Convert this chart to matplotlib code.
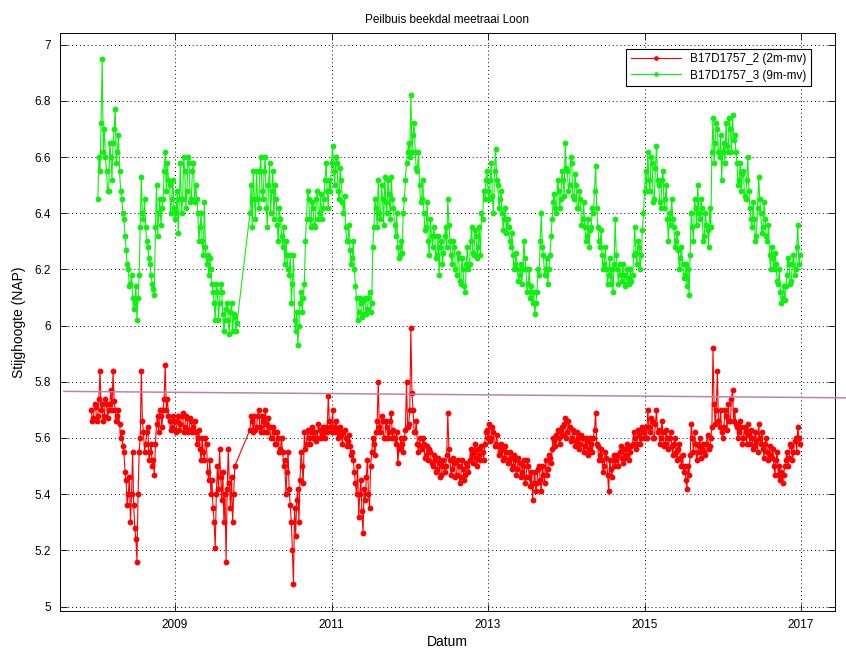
import matplotlib
matplotlib.use("Agg")
import matplotlib.pyplot as plt

SLOTS = 36  # main readings per year; "_b" lists hold the readings halfway between

# ---- B17D1757_3 (9m-mv), green ----
green_2008 = [6.45, 6.55, 6.95, 6.70, 6.55, 6.48, 6.60, 6.65, 6.77, 6.62, 6.55, 6.45,
              6.38, 6.27, 6.20, 6.15, 6.10, 6.08, 6.02, 6.18, 6.53, 6.38, 6.35, 6.28,
              6.22, 6.15, 6.11, 6.50, 6.40, 6.36, 6.45, 6.62, 6.58, 6.50, 6.45, 6.42]
green_2008_b = [6.60, 6.72, 6.62, 6.60, 6.48, 6.65, 6.52, 6.70, 6.58, 6.68, 6.48, 6.40,
                6.32, 6.22, 6.14, 6.18, 6.06, 6.14, 6.10, 6.35, 6.40, 6.45, 6.30, 6.24,
                6.18, 6.13, 6.35, 6.32, 6.45, 6.42, 6.55, 6.48, 6.52, 6.40, 6.52, 6.38]
green_2009 = [6.40, 6.33, 6.58, 6.45, 6.55, 6.48, 6.58, 6.45, 6.58, 6.50, 6.40, 6.35,
              6.30, 6.44, 6.22, 6.18, 6.20, 6.12, 6.02, 6.12, 6.08, 6.12, 5.98, 6.06,
              6.02, 6.05, 5.98, 6.03, 6.01] + [None] * 5 + [6.40, 6.35]
green_2009_b = [6.48, 6.45, 6.40, 6.60, 6.42, 6.60, 6.44, 6.55, 6.44, 6.45, 6.30, 6.40,
                6.25, 6.28, 6.25, 6.24, 6.15, 6.08, 6.15, 6.02, 6.15, 6.04, 6.02, 6.08,
                5.97, 6.08, 6.04, 5.98] + [None] * 6 + [6.50, 6.55]
green_2010 = [6.45, 6.55, 6.42, 6.60, 6.45, 6.60, 6.35, 6.58, 6.48, 6.38, 6.45, 6.30,
              6.38, 6.28, 6.22, 6.25, 6.18, 6.08, 6.25, 5.98, 5.93, 6.08, 6.05, 6.15,
              6.38, 6.45, 6.35, 6.42, 6.35, 6.48, 6.40, 6.38, 6.45, 6.58, 6.42, 6.48]
green_2010_b = [6.38, 6.45, 6.55, 6.48, 6.55, 6.42, 6.50, 6.40, 6.55, 6.50, 6.36, 6.42,
                6.32, 6.35, 6.30, 6.20, 6.25, 6.15, 6.02, 6.05, 6.00, 6.12, 6.10, 6.30,
                6.48, 6.38, 6.44, 6.36, 6.45, 6.38, 6.47, 6.42, 6.52, 6.48, 6.52, 6.58]
green_2011 = [6.64, 6.50, 6.58, 6.45, 6.52, 6.40, 6.35, 6.30, 6.27, 6.24, 6.20, 6.10,
              6.05, 6.08, 6.04, 6.10, 6.06, 6.12, 6.08, 6.35, 6.42, 6.52, 6.38, 6.45,
              6.53, 6.40, 6.47, 6.53, 6.42, 6.32, 6.28, 6.25, 6.26, 6.45, 6.58, 6.65]
green_2011_b = [6.55, 6.60, 6.48, 6.56, 6.44, 6.46, 6.30, 6.36, 6.22, 6.30, 6.14, 6.02,
                6.10, 6.03, 6.09, 6.04, 6.10, 6.05, 6.28, 6.45, 6.35, 6.40, 6.50, 6.36,
                6.44, 6.52, 6.38, 6.45, 6.36, 6.40, 6.24, 6.30, 6.40, 6.52, 6.62, 6.60]
green_2012 = [6.82, 6.68, 6.62, 6.55, 6.50, 6.45, 6.40, 6.35, 6.30, 6.38, 6.28, 6.32,
              6.25, 6.18, 6.30, 6.26, 6.35, 6.45, 6.30, 6.22, 6.28, 6.18, 6.24, 6.15,
              6.20, 6.12, 6.28, 6.22, 6.35, 6.25, 6.32, 6.28, 6.25, 6.38, 6.45, 6.55]
green_2012_b = [6.62, 6.72, 6.56, 6.62, 6.44, 6.52, 6.34, 6.44, 6.25, 6.32, 6.35, 6.24,
                6.32, 6.28, 6.22, 6.32, 6.28, 6.36, 6.25, 6.30, 6.20, 6.26, 6.16, 6.24,
                6.14, 6.22, 6.20, 6.30, 6.26, 6.34, 6.24, 6.35, 6.40, 6.48, 6.52, 6.48]
green_2013 = [6.45, 6.58, 6.40, 6.63, 6.50, 6.45, 6.40, 6.38, 6.33, 6.35, 6.28, 6.25,
              6.22, 6.20, 6.18, 6.15, 6.30, 6.20, 6.15, 6.10, 6.08, 6.04, 6.12, 6.18,
              6.40, 6.25, 6.20, 6.15, 6.25, 6.38, 6.47, 6.40, 6.48, 6.45, 6.52, 6.65]
green_2013_b = [6.52, 6.46, 6.55, 6.52, 6.42, 6.48, 6.34, 6.42, 6.38, 6.30, 6.33, 6.20,
                6.26, 6.16, 6.22, 6.20, 6.24, 6.12, 6.20, 6.14, 6.12, 6.08, 6.20, 6.30,
                6.28, 6.18, 6.24, 6.20, 6.32, 6.44, 6.42, 6.52, 6.42, 6.55, 6.46, 6.56]
green_2014 = [6.55, 6.50, 6.58, 6.45, 6.50, 6.42, 6.45, 6.38, 6.35, 6.32, 6.28, 6.35,
              6.40, 6.57, 6.35, 6.28, 6.25, 6.22, 6.20, 6.18, 6.15, 6.12, 6.38, 6.20,
              6.22, 6.16, 6.18, 6.15, 6.17, 6.20, 6.18, 6.35, 6.22, 6.28, 6.25, 6.40]
green_2014_b = [6.48, 6.60, 6.46, 6.54, 6.42, 6.48, 6.36, 6.44, 6.30, 6.38, 6.34, 6.42,
                6.48, 6.42, 6.30, 6.34, 6.20, 6.28, 6.15, 6.24, 6.20, 6.22, 6.25, 6.15,
                6.18, 6.22, 6.14, 6.20, 6.15, 6.16, 6.25, 6.26, 6.30, 6.20, 6.34, 6.48]
green_2015 = [6.55, 6.62, 6.48, 6.58, 6.45, 6.64, 6.50, 6.42, 6.55, 6.45, 6.38, 6.40,
              6.45, 6.35, 6.30, 6.27, 6.24, 6.22, 6.18, 6.14, 6.11, 6.40, 6.30, 6.42,
              6.50, 6.38, 6.42, 6.32, 6.36, 6.28, 6.35, 6.74, 6.65, 6.70, 6.60, 6.52]
green_2015_b = [6.48, 6.52, 6.60, 6.44, 6.56, 6.52, 6.44, 6.52, 6.42, 6.50, 6.30, 6.36,
                6.38, 6.28, 6.33, 6.20, 6.28, 6.17, 6.22, 6.20, 6.25, 6.35, 6.45, 6.36,
                6.40, 6.45, 6.30, 6.40, 6.34, 6.42, 6.62, 6.58, 6.72, 6.62, 6.68, 6.62]
green_2016 = [6.65, 6.72, 6.62, 6.70, 6.75, 6.68, 6.58, 6.52, 6.48, 6.55, 6.45, 6.60,
              6.42, 6.35, 6.38, 6.32, 6.53, 6.40, 6.35, 6.38, 6.30, 6.25, 6.28, 6.20,
              6.22, 6.15, 6.12, 6.10, 6.09, 6.18, 6.22, 6.16, 6.25, 6.20, 6.36, 6.25]
green_2016_b = [6.58, 6.64, 6.74, 6.62, 6.66, 6.62, 6.50, 6.58, 6.54, 6.46, 6.52, 6.48,
                6.38, 6.44, 6.30, 6.42, 6.45, 6.33, 6.44, 6.32, 6.36, 6.20, 6.24, 6.26,
                6.16, 6.20, 6.08, 6.14, 6.14, 6.24, 6.15, 6.22, 6.18, 6.28, 6.22, None]

# ---- B17D1757_2 (2m-mv), red ----
red_2007 = [None] * 33 + [5.70, 5.67, 5.71]
red_2007_b = [None] * 33 + [5.66, 5.72, 5.66]
red_2008 = [5.68, 5.84, 5.72, 5.68, 5.72, 5.70, 5.77, 5.84, 5.70, 5.68, 5.65, 5.62,
            5.55, 5.45, 5.40, 5.30, 5.55, 5.28, 5.16, 5.55, 5.84, 5.62, 5.58, 5.64,
            5.55, 5.50, 5.47, 5.65, 5.62, 5.68, 5.70, 5.86, 5.74, 5.66, 5.64, 5.66]
red_2008_b = [5.74, 5.70, 5.66, 5.74, 5.67, 5.72, 5.70, 5.73, 5.66, 5.70, 5.60, 5.57,
              5.48, 5.36, 5.46, 5.40, 5.36, 5.24, 5.40, 5.60, 5.66, 5.55, 5.62, 5.52,
              5.58, 5.52, 5.58, 5.68, 5.70, 5.64, 5.74, 5.70, 5.68, 5.63, 5.68, 5.63]
red_2009 = [5.62, 5.68, 5.65, 5.69, 5.64, 5.67, 5.63, 5.66, 5.64, 5.62, 5.60, 5.56,
            5.60, 5.52, 5.58, 5.45, 5.40, 5.35, 5.21, 5.50, 5.56, 5.38, 5.30, 5.16,
            5.56, 5.35, 5.30, 5.50] + [None] * 6 + [5.63, 5.66]
red_2009_b = [5.66, 5.63, 5.68, 5.62, 5.68, 5.62, 5.67, 5.62, 5.66, 5.58, 5.63, 5.52,
              5.55, 5.60, 5.48, 5.52, 5.45, 5.30, 5.40, 5.42, 5.46, 5.48, 5.40, 5.42,
              5.44, 5.46, 5.40] + [None] * 7 + [5.68, 5.62]
red_2010 = [5.68, 5.64, 5.70, 5.62, 5.66, 5.70, 5.62, 5.64, 5.60, 5.62, 5.58, 5.60,
            5.56, 5.55, 5.52, 5.48, 5.42, 5.30, 5.08, 5.25, 5.42, 5.45, 5.50, 5.62,
            5.58, 5.60, 5.62, 5.60, 5.62, 5.60, 5.63, 5.61, 5.62, 5.64, 5.75, 5.64]
red_2010_b = [5.63, 5.68, 5.64, 5.68, 5.62, 5.65, 5.67, 5.60, 5.64, 5.58, 5.62, 5.55,
              5.60, 5.50, 5.40, 5.55, 5.36, 5.20, 5.35, 5.38, 5.30, 5.55, 5.44, 5.56,
              5.63, 5.58, 5.64, 5.62, 5.59, 5.65, 5.60, 5.64, 5.60, 5.62, 5.66, 5.62]
red_2011 = [5.70, 5.64, 5.62, 5.63, 5.61, 5.62, 5.60, 5.59, 5.57, 5.55, 5.48, 5.40,
            5.32, 5.45, 5.26, 5.38, 5.52, 5.35, 5.55, 5.58, 5.62, 5.80, 5.62, 5.66,
            5.60, 5.64, 5.62, 5.69, 5.63, 5.58, 5.51, 5.57, 5.58, 5.60, 5.80, 5.65]
red_2011_b = [5.62, 5.66, 5.60, 5.64, 5.58, 5.63, 5.57, 5.61, 5.54, 5.52, 5.44, 5.50,
              5.40, 5.34, 5.42, 5.46, 5.40, 5.50, 5.60, 5.54, 5.66, 5.64, 5.68, 5.60,
              5.66, 5.60, 5.66, 5.60, 5.60, 5.62, 5.56, 5.60, 5.55, 5.63, 5.64, 5.70]
red_2012 = [5.99, 5.70, 5.62, 5.58, 5.60, 5.56, 5.58, 5.54, 5.52, 5.55, 5.50, 5.52,
            5.49, 5.51, 5.47, 5.52, 5.50, 5.69, 5.52, 5.49, 5.51, 5.47, 5.50, 5.46,
            5.49, 5.47, 5.50, 5.52, 5.54, 5.55, 5.53, 5.56, 5.52, 5.55, 5.58, 5.63]
red_2012_b = [5.76, 5.62, 5.66, 5.55, 5.57, 5.60, 5.53, 5.57, 5.56, 5.51, 5.54, 5.48,
              5.53, 5.46, 5.50, 5.48, 5.54, 5.56, 5.47, 5.53, 5.46, 5.52, 5.44, 5.52,
              5.45, 5.51, 5.48, 5.56, 5.51, 5.58, 5.50, 5.54, 5.57, 5.52, 5.62, 5.60]
red_2013 = [5.65, 5.60, 5.62, 5.58, 5.57, 5.55, 5.56, 5.53, 5.55, 5.52, 5.53, 5.50,
            5.52, 5.49, 5.51, 5.48, 5.52, 5.46, 5.50, 5.43, 5.38, 5.48, 5.44, 5.50,
            5.41, 5.47, 5.52, 5.49, 5.53, 5.56, 5.59, 5.61, 5.60, 5.62, 5.61, 5.67]
red_2013_b = [5.59, 5.64, 5.57, 5.61, 5.54, 5.58, 5.52, 5.57, 5.51, 5.55, 5.49, 5.54,
              5.47, 5.53, 5.46, 5.50, 5.44, 5.52, 5.46, 5.48, 5.44, 5.41, 5.49, 5.45,
              5.50, 5.44, 5.47, 5.54, 5.51, 5.60, 5.57, 5.63, 5.58, 5.64, 5.65, 5.60]
red_2014 = [5.62, 5.64, 5.60, 5.62, 5.59, 5.60, 5.58, 5.60, 5.57, 5.59, 5.56, 5.58,
            5.60, 5.69, 5.57, 5.54, 5.52, 5.50, 5.53, 5.41, 5.49, 5.52, 5.50, 5.54,
            5.55, 5.53, 5.56, 5.54, 5.56, 5.55, 5.58, 5.60, 5.58, 5.61, 5.60, 5.62]
red_2014_b = [5.66, 5.59, 5.63, 5.57, 5.62, 5.56, 5.61, 5.55, 5.60, 5.54, 5.60, 5.55,
              5.63, 5.58, 5.52, 5.56, 5.48, 5.55, 5.47, 5.52, 5.46, 5.54, 5.52, 5.50,
              5.57, 5.51, 5.53, 5.58, 5.52, 5.57, 5.62, 5.56, 5.63, 5.58, 5.64, 5.60]
red_2015 = [5.64, 5.70, 5.62, 5.66, 5.60, 5.70, 5.63, 5.60, 5.62, 5.58, 5.60, 5.60,
            5.57, 5.58, 5.55, 5.56, 5.53, 5.54, 5.50, 5.42, 5.47, 5.65, 5.55, 5.58,
            5.55, 5.60, 5.56, 5.55, 5.58, 5.56, 5.60, 5.92, 5.65, 5.84, 5.64, 5.62]
red_2015_b = [5.60, 5.64, 5.67, 5.60, 5.65, 5.62, 5.58, 5.66, 5.57, 5.63, 5.56, 5.62,
              5.54, 5.60, 5.52, 5.58, 5.50, 5.48, 5.45, 5.50, 5.54, 5.60, 5.62, 5.52,
              5.57, 5.53, 5.58, 5.54, 5.61, 5.57, 5.64, 5.72, 5.70, 5.66, 5.70, 5.60]
red_2016 = [5.64, 5.68, 5.72, 5.66, 5.77, 5.70, 5.64, 5.62, 5.64, 5.60, 5.62, 5.65,
            5.58, 5.60, 5.57, 5.59, 5.65, 5.58, 5.56, 5.58, 5.55, 5.57, 5.53, 5.50,
            5.52, 5.47, 5.45, 5.44, 5.50, 5.55, 5.53, 5.57, 5.55, 5.60, 5.64, 5.58]
red_2016_b = [5.70, 5.63, 5.66, 5.74, 5.66, 5.65, 5.60, 5.66, 5.58, 5.64, 5.58, 5.61,
              5.63, 5.56, 5.62, 5.55, 5.60, 5.62, 5.53, 5.60, 5.52, 5.54, 5.56, 5.47,
              5.55, 5.50, 5.48, 5.47, 5.52, 5.50, 5.58, 5.52, 5.59, 5.55, 5.60, None]

green_years = [(2008, green_2008, green_2008_b), (2009, green_2009, green_2009_b),
               (2010, green_2010, green_2010_b), (2011, green_2011, green_2011_b),
               (2012, green_2012, green_2012_b), (2013, green_2013, green_2013_b),
               (2014, green_2014, green_2014_b), (2015, green_2015, green_2015_b),
               (2016, green_2016, green_2016_b)]
red_years = [(2007, red_2007, red_2007_b), (2008, red_2008, red_2008_b),
             (2009, red_2009, red_2009_b), (2010, red_2010, red_2010_b),
             (2011, red_2011, red_2011_b), (2012, red_2012, red_2012_b),
             (2013, red_2013, red_2013_b), (2014, red_2014, red_2014_b),
             (2015, red_2015, red_2015_b), (2016, red_2016, red_2016_b)]

# reference line (start / end level)
ref_years = [2007.58, 2017.60]
ref_levels = [5.766, 5.743]

labels = ["B17D1757_2 (2m-mv)", "B17D1757_3 (9m-mv)"]
xtick_years = [2009, 2011, 2013, 2015, 2017]
ytick_vals = [5.0, 5.2, 5.4, 5.6, 5.8, 6.0, 6.2, 6.4, 6.6, 6.8, 7.0]
ytick_labels = ["5", "5.2", "5.4", "5.6", "5.8", "6", "6.2", "6.4", "6.6", "6.8", "7"]


def build(year_lists):
    pts = []
    for year, vals, vals_b in year_lists:
        for i, val in enumerate(vals):
            if val is not None:
                pts.append((year + (i + 0.5) / SLOTS, val))
        for i, val in enumerate(vals_b):
            if val is not None:
                pts.append((year + (i + 1.0) / SLOTS, val))
    pts.sort()
    return [p[0] for p in pts], [p[1] for p in pts]


plt.rcParams['font.family'] = ['Liberation Sans', 'DejaVu Sans']

fig = plt.figure(figsize=(8.46, 6.52), dpi=100)
ax = fig.add_axes([59.5 / 846, 1 - 611 / 652, (835 - 59.5) / 846, (611 - 33) / 652])

rt, rv = build(red_years)
gt, gv = build(green_years)
ax.plot(rt, rv, color='#ff0000', lw=0.8, marker='o', ms=4.2, mew=0,
        label=labels[0], zorder=3)
ax.plot(gt, gv, color='#10f010', lw=0.8, marker='o', ms=4.2, mew=0,
        label=labels[1], zorder=3)
ax.plot(ref_years, ref_levels, color='#b884ad', lw=1.1, clip_on=False, zorder=4)

ax.set_xlim(2007.524, 2017.434)
ax.set_ylim(4.984, 7.042)
ax.set_xticks(xtick_years)
ax.set_xticklabels([str(y) for y in xtick_years])
ax.set_yticks(ytick_vals)
ax.set_yticklabels(ytick_labels)
ax.tick_params(direction='in', top=True, right=True, length=5, width=0.6,
               labelsize=8.5, pad=6)
ax.grid(True, color='black', linestyle=(0, (1, 3)), linewidth=0.7)
for s in ax.spines.values():
    s.set_linewidth(0.7)

ax.set_title("Peilbuis beekdal meetraai Loon", fontsize=8.5, pad=7)
ax.set_xlabel("Datum", fontsize=10, labelpad=3)
ax.set_ylabel("Stijghoogte (NAP)", fontsize=10, labelpad=6)

leg = ax.legend(loc='upper right', bbox_to_anchor=(0.977, 0.983), fontsize=8.5,
                frameon=True, fancybox=False, framealpha=1, edgecolor='black',
                handlelength=4.2, numpoints=1, borderpad=0.4, labelspacing=0.35,
                markerscale=0.8)
leg.get_frame().set_linewidth(0.8)

fig.savefig("out.png", dpi=100)
